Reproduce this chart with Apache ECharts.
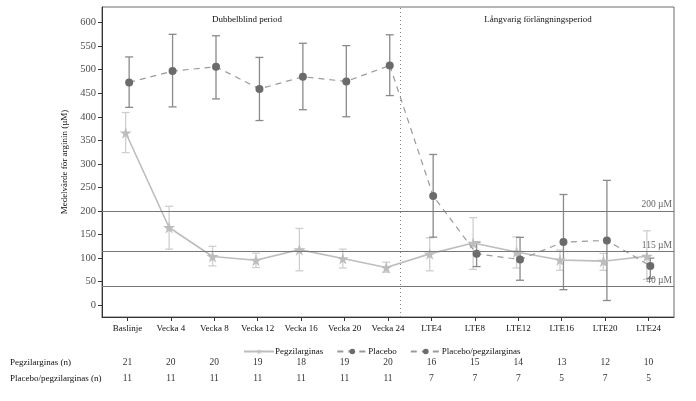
<!DOCTYPE html>
<html>
<head>
<meta charset="utf-8">
<script src="https://cdn.jsdelivr.net/npm/echarts@6/dist/echarts.min.js"></script>
<style>html,body{margin:0;padding:0;background:#fff}#c{width:696px;height:401px}</style>
</head>
<body>
<div id="c"></div>
<script>
const categories = ['Baslinje','Vecka 4','Vecka 8','Vecka 12','Vecka 16','Vecka 20','Vecka 24','LTE4','LTE8','LTE12','LTE16','LTE20','LTE24'];
const pegMean = [366,165,103.5,95.6,118,99,80,109,132,113,96,93.5,104];
const pegLow  = [324,119,83.5,80,73,79,70,73,76,79,74,74,55];
const pegHigh = [409,210,125,110.5,163,119,91.4,143,186,145,117,110,158];
const plaMean = [473,497,506,459,485,475,509];
const plaLow  = [420,421,438,392,415,400,445];
const plaHigh = [527,575,572,526,556,551,574];
const ppMean = [232,109,97,134,137.5,83.5];
const ppLow  = [144.5,82,53,33,10,57];
const ppHigh = [320,134,144,235,265,100];
const nPeg = [21,20,20,19,18,19,20,16,15,14,13,12,10];
const nPP  = [11,11,11,11,11,11,11,7,7,7,5,7,5];
const refLines = [200,115,40];
const refLabels = ['200 µM','115 µM','40 µM'];
const yTicks = [0,50,100,150,200,250,300,350,400,450,500,550,600];
const periodLabels = ['Dubbelblind period','Långvarig förlängningsperiod'];
const periodSplit = 6.28;

const font = 'Liberation Serif';
const dodge = 0.04;
const catIdx = categories.map((_, i) => i);
const plaStart = 0, ppStart = 7;

const pegData = pegMean.map((v, i) => [i - dodge, v]);
const plaData = plaMean.map((v, i) => [plaStart + i + dodge, v]);
const ppData = [{value: [6 + dodge, plaMean[6]], symbol: 'none'}].concat(ppMean.map((v, i) => [ppStart + i + dodge, v]));
const pegErr = pegMean.map((v, i) => [i - dodge, pegLow[i], pegHigh[i]]);
const plaErr = plaMean.map((v, i) => [plaStart + i + dodge, plaLow[i], plaHigh[i]]);
const ppErr = ppMean.map((v, i) => [ppStart + i + dodge, ppLow[i], ppHigh[i]]);

const star = 'path://M50,0 L61,35 L98,35 L68,57 L79,91 L50,70 L21,91 L32,57 L2,35 L39,35 Z';

function errSeries(data, color, width) {
  return {
    type: 'custom', silent: true, z: 1, xAxisIndex: 0, yAxisIndex: 0,
    data: data,
    encode: {x: 0, y: [1, 2]},
    renderItem: function (params, api) {
      const x = api.value(0);
      const lo = api.coord([x, api.value(1)]);
      const hi = api.coord([x, api.value(2)]);
      const w = 4;
      const st = {stroke: color, lineWidth: width};
      return {type: 'group', children: [
        {type: 'line', shape: {x1: lo[0], y1: lo[1], x2: hi[0], y2: hi[1]}, style: st},
        {type: 'line', shape: {x1: lo[0] - w, y1: lo[1], x2: lo[0] + w, y2: lo[1]}, style: st},
        {type: 'line', shape: {x1: hi[0] - w, y1: hi[1], x2: hi[0] + w, y2: hi[1]}, style: st}
      ]};
    }
  };
}

const xMin = -0.585, xMax = 12.585;
function tableAxis(arr, offset) {
  return {
    type: 'value', min: xMin, max: xMax, position: 'bottom', offset: offset,
    axisLine: {show: false}, axisTick: {show: false}, splitLine: {show: false},
    axisLabel: {customValues: catIdx, formatter: v => String(arr[Math.round(v)]), fontFamily: font, fontSize: 9.5, color: '#333', margin: 6}
  };
}

const chart = echarts.init(document.getElementById('c'), null, {renderer: 'canvas'});
chart.setOption({
  animation: false,
  backgroundColor: '#fff',
  grid: {left: 102, right: 22, top: 7, bottom: 84, show: true, borderColor: '#6a6a6a', borderWidth: 1},
  legend: {
    left: 238, top: 342, itemWidth: 30, itemHeight: 7, itemGap: 13,
    data: ['Pegzilarginas', 'Placebo', 'Placebo/pegzilarginas'],
    textStyle: {fontFamily: font, fontSize: 9, color: '#111', padding: [0, 0, 0, -4]}
  },
  graphic: [
    {type: 'text', left: 10, top: 358, style: {text: 'Pegzilarginas (n)', font: '9px "Liberation Serif"', fill: '#111'}},
    {type: 'text', left: 10, top: 374, style: {text: 'Placebo/pegzilarginas (n)', font: '9px "Liberation Serif"', fill: '#111'}},
    {type: 'text', x: 247, y: 20, style: {text: periodLabels[0], font: '9px "Liberation Serif"', fill: '#111', align: 'center', verticalAlign: 'middle'}},
    {type: 'text', x: 538, y: 20, style: {text: periodLabels[1], font: '9px "Liberation Serif"', fill: '#111', align: 'center', verticalAlign: 'middle'}}
  ],
  xAxis: [
    {
      type: 'value', min: xMin, max: xMax, position: 'bottom',
      axisLine: {show: true, onZero: false, lineStyle: {color: '#333'}},
      axisTick: {show: true, customValues: catIdx, length: 4, lineStyle: {color: '#333'}},
      splitLine: {show: false},
      axisLabel: {customValues: catIdx, formatter: v => categories[Math.round(v)], fontFamily: font, fontSize: 9, color: '#111', margin: 7}
    },
    tableAxis(nPeg, 34.5),
    tableAxis(nPP, 50.5)
  ],
  yAxis: {
    type: 'value', min: -25, max: 633,
    name: 'Medelvärde för arginin (µM)', nameLocation: 'middle', nameGap: 32,
    nameTextStyle: {fontFamily: font, fontSize: 9, color: '#111'},
    axisLine: {show: true, onZero: false, lineStyle: {color: '#333'}},
    axisTick: {show: true, customValues: yTicks, length: 4, lineStyle: {color: '#333'}},
    splitLine: {show: false},
    axisLabel: {customValues: yTicks, fontFamily: font, fontSize: 10.5, color: '#4d4d4d', margin: 6}
  },
  series: [
    errSeries(pegErr, '#cfcfcf', 1.3),
    errSeries(plaErr, '#8a8a8a', 1.3),
    errSeries(ppErr, '#8a8a8a', 1.3),
    {
      name: 'Pegzilarginas', type: 'line', data: pegData, z: 3,
      symbol: star, symbolSize: 12,
      itemStyle: {color: '#bdbdbd'},
      lineStyle: {color: '#bdbdbd', width: 1.6},
      markLine: {
        silent: true, symbol: 'none', animation: false,
        data: refLines.map((v, i) => ({
          yAxis: v,
          lineStyle: {color: '#777', width: 1, type: 'solid'},
          label: {show: true, position: 'insideEndTop', formatter: refLabels[i], fontFamily: font, fontSize: 9.5, color: '#666', distance: [2, 1]}
        })).concat([{
          xAxis: periodSplit,
          lineStyle: {color: '#888', width: 1, type: [1, 3]},
          label: {show: false}
        }])
      }
    },
    {
      name: 'Placebo', type: 'line', data: plaData, z: 4,
      symbol: 'circle', symbolSize: 8,
      itemStyle: {color: '#6b6b6b'},
      lineStyle: {color: '#9a9a9a', width: 1.2, type: [6, 5]}
    },
    {
      name: 'Placebo/pegzilarginas', type: 'line', data: ppData, z: 4,
      symbol: 'circle', symbolSize: 8,
      itemStyle: {color: '#6b6b6b'},
      lineStyle: {color: '#9a9a9a', width: 1.2, type: [6, 5]}
    }
  ]
});
</script>
</body>
</html>
